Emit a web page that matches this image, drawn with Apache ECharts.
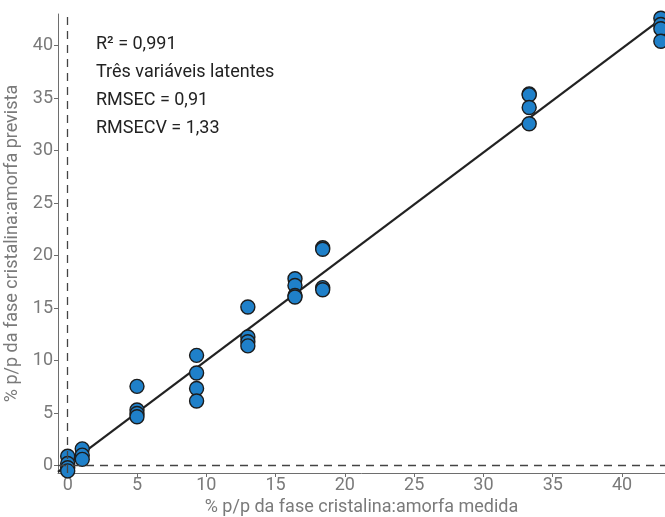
<!DOCTYPE html>
<html>
<head>
<meta charset="utf-8">
<script src="https://cdn.jsdelivr.net/npm/echarts@6/dist/echarts.min.js"></script>
<style>
  html, body { margin: 0; padding: 0; background: #fff; }
  #chart { width: 665px; height: 517px; }
</style>
</head>
<body>
<div id="chart"></div>
<script>
// measured vs predicted (% p/p)
var measured = [
  0, 0, 0, 0,
  1.05, 1.05, 1.05,
  5, 5, 5, 5,
  9.3, 9.3, 9.3, 9.3,
  13, 13, 13, 13,
  16.4, 16.4, 16.4, 16.4,
  18.4, 18.4, 18.4, 18.4,
  33.3, 33.3, 33.3, 33.3,
  42.8, 42.8, 42.8, 42.8
];
var predicted = [
  0.9, 0.2, -0.2, -0.5,
  1.6, 1.0, 0.6,
  7.55, 5.3, 4.97, 4.65,
  10.5, 8.82, 7.35, 6.15,
  15.1, 12.25, 11.8, 11.4,
  17.8, 17.15, 16.2, 16.05,
  20.75, 20.6, 16.95, 16.75,
  35.4, 35.3, 34.1, 32.55,
  42.6, 42.0, 41.6, 40.4
];
var fitX = [-0.7, 43.1];
var fitY = [-0.6, 42.8];
var tickValues = [0, 5, 10, 15, 20, 25, 30, 35, 40];
var statsText = ["R² = 0,991", "Três variáveis latentes", "RMSEC = 0,91", "RMSECV = 1,33"];

var points = measured.map(function (x, i) { return [x, predicted[i]]; });
var fitLine = fitX.map(function (x, i) { return [x, fitY[i]]; });

var axisGray = "#6e6e6e";
var labelGray = "#7a7a7a";

var chart = echarts.init(document.getElementById("chart"));
var option = {
  animation: false,
  textStyle: { fontFamily: "Roboto" },
  grid: { left: 58, right: 0, top: 14, bottom: 44, containLabel: false, outerBoundsMode: "none" },
  xAxis: {
    type: "value",
    min: -0.7,
    max: 43.1,
    name: "% p/p da fase cristalina:amorfa medida",
    nameLocation: "middle",
    nameGap: 24,
    nameTextStyle: { color: labelGray, fontSize: 18 },
    axisLine: { show: true, onZero: false, lineStyle: { color: axisGray, width: 1 } },
    axisTick: { show: true, length: 4, lineStyle: { color: axisGray }, customValues: tickValues },
    axisLabel: { color: labelGray, fontSize: 18, margin: 3, customValues: tickValues },
    splitLine: { show: false }
  },
  yAxis: {
    type: "value",
    min: -0.7,
    max: 43,
    name: "% p/p da fase cristalina:amorfa prevista",
    nameLocation: "middle",
    nameGap: 32,
    nameTextStyle: { color: labelGray, fontSize: 18 },
    axisLine: { show: true, onZero: false, lineStyle: { color: axisGray, width: 1 } },
    axisTick: { show: true, length: 4, lineStyle: { color: axisGray }, customValues: tickValues },
    axisLabel: { color: labelGray, fontSize: 18, margin: 5, customValues: tickValues },
    splitLine: { show: false }
  },
  series: [
    {
      type: "line",
      data: fitLine,
      symbol: "none",
      lineStyle: { color: "#222", width: 2.2 },
      silent: true,
      z: 2,
      markLine: {
        silent: true,
        symbol: "none",
        label: { show: false },
        lineStyle: { color: "#444", type: [8, 6], width: 1.3 },
        data: [{ xAxis: 0 }, { yAxis: 0 }]
      }
    },
    {
      type: "scatter",
      data: points,
      symbolSize: 14,
      clip: false,
      itemStyle: { color: "#1f80c9", borderColor: "#1c1c1c", borderWidth: 1.4, opacity: 1 },
      z: 3
    }
  ],
  graphic: statsText.map(function (t, i) {
    return {
      type: "text",
      left: 96,
      top: 35 + i * 28,
      style: { text: t, fill: "#222", font: "18px Roboto" }
    };
  })
};
chart.setOption(option);
</script>
</body>
</html>
